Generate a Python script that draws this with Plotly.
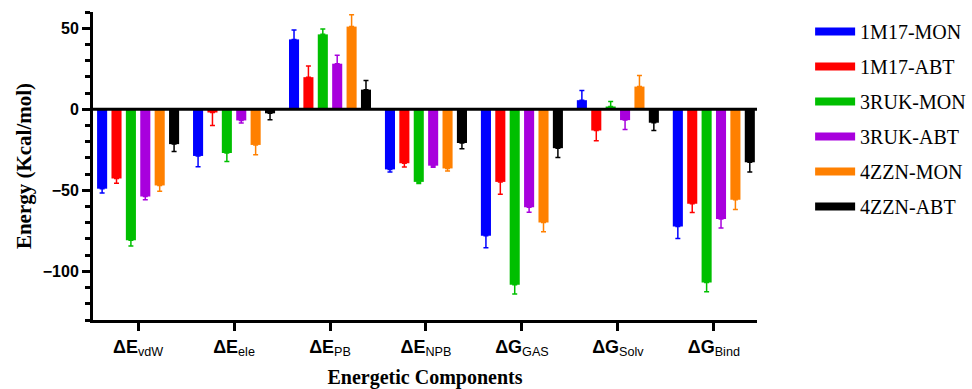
import plotly.graph_objects as go

categories = ["<b>ΔE</b><sub>vdW</sub>", "<b>ΔE</b><sub>ele</sub>", "<b>ΔE</b><sub>PB</sub>",
              "<b>ΔE</b><sub>NPB</sub>", "<b>ΔG</b><sub>GAS</sub>", "<b>ΔG</b><sub>Solv</sub>",
              "<b>ΔG</b><sub>Bind</sub>"]

series_names = ["1M17-MON", "1M17-ABT", "3RUK-MON", "3RUK-ABT", "4ZZN-MON", "4ZZN-ABT"]
colors = ["#0000FF", "#FF0000", "#00BF00", "#A800DD", "#FF8000", "#000000"]

m1m17_mon = [-49.0, -28.8, 43.1, -37.1, -78.1, 5.6, -72.3]
m1m17_abt = [-42.7, -2.0, 19.8, -33.3, -44.8, -13.1, -58.3]
r3ruk_mon = [-80.8, -27.0, 46.2, -44.8, -108.3, 1.7, -106.9]
r3ruk_abt = [-53.8, -6.9, 28.1, -34.8, -60.4, -6.7, -67.7]
z4zzn_mon = [-47.0, -22.0, 51.0, -36.5, -69.8, 14.0, -55.8]
z4zzn_abt = [-21.5, -2.5, 12.1, -20.8, -24.0, -8.3, -32.7]

e1m17_mon = [2.7, 6.7, 5.8, 1.6, 7.3, 5.9, 7.5]
e1m17_abt = [3.0, 8.0, 6.9, 2.3, 7.7, 6.3, 5.4]
e3ruk_mon = [3.6, 5.3, 3.3, 1.0, 5.6, 3.1, 5.6]
e3ruk_abt = [2.0, 1.5, 5.2, 1.0, 3.1, 5.8, 5.6]
e4zzn_mon = [3.6, 6.0, 7.3, 1.6, 5.8, 6.8, 6.1]
e4zzn_abt = [4.5, 4.0, 5.6, 3.6, 5.8, 4.8, 6.0]

values = [m1m17_mon, m1m17_abt, r3ruk_mon, r3ruk_abt, z4zzn_mon, z4zzn_abt]
errors = [e1m17_mon, e1m17_abt, e3ruk_mon, e3ruk_abt, e4zzn_mon, e4zzn_abt]

fig = go.Figure()
for name, col, vals, errs in zip(series_names, colors, values, errors):
    plus = [e if v >= 0 else 0 for v, e in zip(vals, errs)]
    minus = [e if v < 0 else 0 for v, e in zip(vals, errs)]
    fig.add_trace(go.Bar(
        x=categories, y=vals, name=name, marker=dict(color=col, line=dict(width=0)),
        error_y=dict(type="data", symmetric=False, array=plus, arrayminus=minus,
                     color=col, thickness=1.5, width=2.5),
        showlegend=False, legendgroup=name))
    fig.add_trace(go.Scatter(
        x=[None], y=[None], mode="lines", name=name, legendgroup=name,
        line=dict(color=col, width=8), showlegend=True, hoverinfo="skip"))

fig.add_shape(type="line", xref="paper", x0=0, x1=1, yref="y", y0=0, y1=0,
              line=dict(color="black", width=3), layer="above")

fig.update_layout(
    width=972, height=389,
    margin=dict(l=93, r=215, t=12, b=69, autoexpand=False),
    paper_bgcolor="white", plot_bgcolor="white",
    barmode="group", bargap=0.1, bargroupgap=0.3,
    legend=dict(x=1.08, y=1.0, xanchor="left", yanchor="top", itemwidth=40,
                font=dict(family="Liberation Serif", size=20, color="black"),
                tracegroupgap=6, bgcolor="rgba(0,0,0,0)"),
    xaxis=dict(range=[-0.47, 6.45], showline=True, linecolor="black", linewidth=3,
               ticks="outside", ticklen=8, tickwidth=3, tickcolor="black",
               tickfont=dict(family="Liberation Sans", size=18, color="black"),
               showgrid=False, zeroline=False, automargin=False,
               title=dict(text="<b>Energetic Components</b>", standoff=12,
                          font=dict(family="Liberation Serif", size=20, color="black"))),
    yaxis=dict(range=[-130, 60], showline=True, linecolor="black", linewidth=3,
               tick0=0, dtick=50, ticks="outside", ticklen=8, tickwidth=3, tickcolor="black",
               minor=dict(dtick=10, ticks="outside", ticklen=5, tickwidth=2.5, tickcolor="black"),
               tickfont=dict(family="Liberation Sans", size=16, color="black"),
               tickprefix="<b>", ticksuffix="</b>",
               showgrid=False, zeroline=False, automargin=False,
               title=dict(text="<b>Energy (Kcal/mol)</b>", standoff=6,
                          font=dict(family="Liberation Serif", size=21, color="black"))),
)

fig.write_html("out.html", config={"displayModeBar": False},
               post_script="document.body.style.margin='0';")
